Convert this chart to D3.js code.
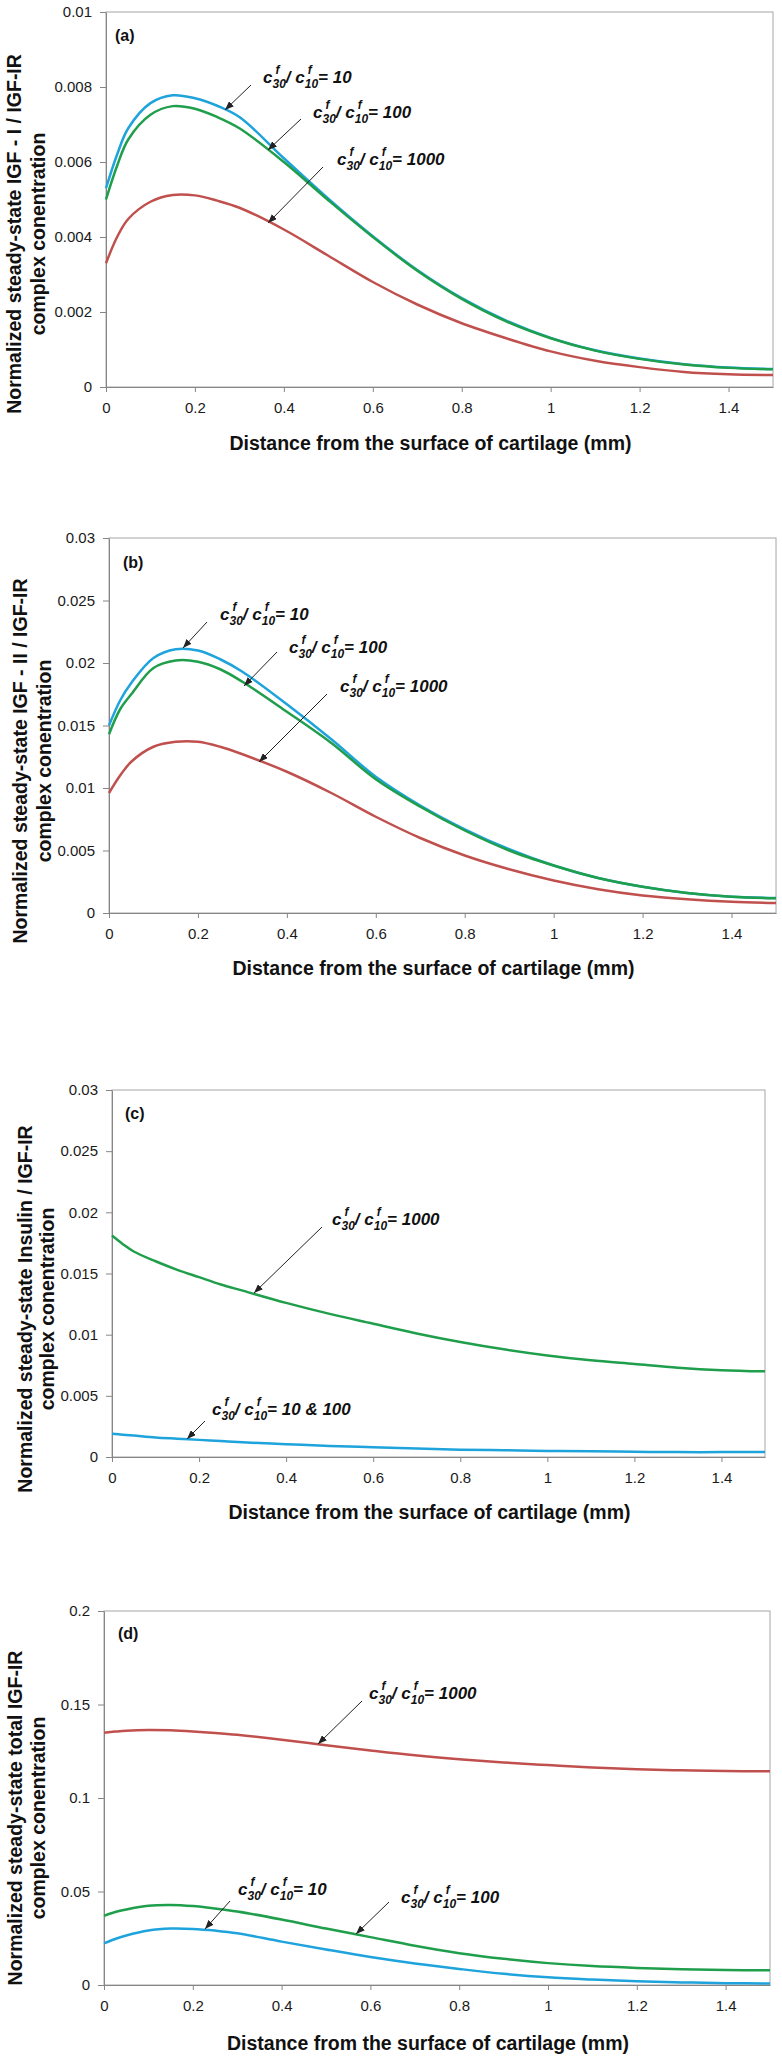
<!DOCTYPE html>
<html><head><meta charset="utf-8">
<script src="https://cdn.jsdelivr.net/npm/d3@7"></script>
<style>
body{margin:0;background:#fff}
svg{display:block}
.tick text{font-family:"Liberation Sans",Arial,sans-serif;font-size:15px;fill:#1a1a1a}
.ttl{font-family:"Liberation Sans",Arial,sans-serif;font-weight:bold;font-size:19.5px;fill:#111}
.plab{font-family:"Liberation Sans",Arial,sans-serif;font-weight:bold;font-size:16px;fill:#111}
.annMain{font-family:"Liberation Sans",Arial,sans-serif;font-weight:bold;font-style:italic;font-size:17px;fill:#111}
.annSmall{font-family:"Liberation Sans",Arial,sans-serif;font-weight:bold;font-style:italic;font-size:12px;fill:#111}
</style>
</head><body>
<svg id="chart" width="782" height="2058"></svg>
<script>
// ---------- data ----------
const distance = [0,0.025,0.05,0.1,0.15,0.2,0.25,0.3,0.4,0.5,0.6,0.7,0.8,0.9,1.0,1.1,1.2,1.3,1.4,1.5];
const xTicks = [0,0.2,0.4,0.6,0.8,1,1.2,1.4];
const xTickLabels = ["0","0.2","0.4","0.6","0.8","1","1.2","1.4"];

// (a) IGF-I / IGF-IR
const aRatio10   = [0.0053,0.0062,0.0069,0.00757,0.00778,0.0077,0.0075,0.0072,0.0061,0.00502,0.00402,0.00312,0.00237,0.00177,0.00131,0.00098,0.00076,0.00061,0.00052,0.00048];
const aRatio100  = [0.0050,0.0059,0.0066,0.00726,0.00749,0.00742,0.0072,0.0069,0.0060,0.00498,0.0040,0.0031,0.00235,0.00175,0.0013,0.00097,0.00075,0.0006,0.00051,0.00047];
const aRatio1000 = [0.0033,0.0040,0.00448,0.00494,0.00512,0.00511,0.00497,0.00478,0.0042,0.0035,0.0028,0.0022,0.0017,0.0013,0.00095,0.0007,0.00053,0.0004,0.00034,0.00032];
const aYTicks = [0,0.002,0.004,0.006,0.008,0.01];
const aYTickLabels = ["0","0.002","0.004","0.006","0.008","0.01"];

// (b) IGF-II / IGF-IR
const bRatio10   = [0.0150,0.0170,0.0184,0.0204,0.0211,0.0210,0.0203,0.0193,0.0167,0.0139,0.0109,0.0086,0.0067,0.0051,0.0038,0.0028,0.0021,0.0016,0.0013,0.0012];
const bRatio100  = [0.0143,0.0163,0.0175,0.0196,0.0202,0.0201,0.0195,0.0185,0.0161,0.0136,0.0107,0.0085,0.0066,0.0050,0.0038,0.0028,0.0021,0.0016,0.0013,0.00118];
const bRatio1000 = [0.0096,0.0110,0.0121,0.0133,0.0137,0.0137,0.0133,0.0127,0.0113,0.0096,0.0077,0.0060,0.0046,0.0035,0.0026,0.0019,0.0014,0.0011,0.0009,0.0008];
const bYTicks = [0,0.005,0.01,0.015,0.02,0.025,0.03];
const bYTickLabels = ["0","0.005","0.01","0.015","0.02","0.025","0.03"];

// (c) Insulin / IGF-IR
const cRatio10and100 = [0.0019,0.00182,0.00175,0.0016,0.0015,0.0014,0.0013,0.0012,0.00105,0.0009,0.0008,0.0007,0.0006,0.00055,0.0005,0.00046,0.00043,0.0004,0.0004,0.0004];
const cRatio1000     = [0.0181,0.0174,0.0168,0.0160,0.0153,0.0147,0.0141,0.0136,0.0126,0.0117,0.0109,0.0101,0.0094,0.0088,0.0083,0.0079,0.0076,0.0073,0.0071,0.0070];
const cYTicks = [0,0.005,0.01,0.015,0.02,0.025,0.03];
const cYTickLabels = ["0","0.005","0.01","0.015","0.02","0.025","0.03"];

// (d) total IGF-IR
const dRatio10   = [0.0223,0.0246,0.0265,0.0292,0.0302,0.0300,0.0291,0.0277,0.0232,0.0190,0.0150,0.0115,0.0086,0.0060,0.0041,0.0029,0.0020,0.0014,0.0010,0.0008];
const dRatio100  = [0.0370,0.0390,0.0404,0.0424,0.0428,0.0422,0.0409,0.0393,0.0350,0.0302,0.0256,0.0210,0.0170,0.0140,0.0117,0.0101,0.0091,0.0084,0.0080,0.0079];
const dRatio1000 = [0.1349,0.1355,0.1360,0.1364,0.1362,0.1356,0.1348,0.1338,0.1312,0.1282,0.1254,0.1228,0.1207,0.1190,0.1176,0.1163,0.1154,0.1148,0.1144,0.1143];
const dYTicks = [0,0.05,0.1,0.15,0.2];
const dYTickLabels = ["0","0.05","0.1","0.15","0.2"];

const xTitle = "Distance from the surface of cartilage (mm)";
const yTitles = [
  ["Normalized steady-state IGF - I / IGF-IR","complex conentration"],
  ["Normalized steady-state IGF - II / IGF-IR","complex conentration"],
  ["Normalized steady-state Insulin / IGF-IR","complex conentration"],
  ["Normalized steady-state total IGF-IR","complex conentration"]
];
const panelLetters = ["(a)","(b)","(c)","(d)"];

// ---------- colours ----------
const BLUE = "#1EA3DC", GREEN = "#1F9E4B", RED = "#C0504D";

// ---------- layout ----------
const panels = [
  {left:106,right:773,top:12,bottom:387,yMax:0.01,yTicks:aYTicks,yLabels:aYTickLabels,
   series:[{v:aRatio10,c:BLUE},{v:aRatio100,c:GREEN},{v:aRatio1000,c:RED}],
   title:yTitles[0],tCy:234,tB1:20.5,tB2:44.5,xtY:450,letter:panelLetters[0],lx:115,ly:41,
   ann:[{x:263,y:83,val:"10",a:[251,85,225,110]},
        {x:313,y:118,val:"100",a:[301,119,268,150]},
        {x:337,y:165,val:"1000",a:[323,167,268,223]}]},
  {left:109,right:776,top:538,bottom:913,yMax:0.03,yTicks:bYTicks,yLabels:bYTickLabels,
   series:[{v:bRatio10,c:BLUE},{v:bRatio100,c:GREEN},{v:bRatio1000,c:RED}],
   title:yTitles[1],tCy:761,tB1:26.5,tB2:50.5,xtY:975,letter:panelLetters[1],lx:123,ly:568,
   ann:[{x:220,y:620,val:"10",a:[207,622,183,648]},
        {x:289,y:653,val:"100",a:[277,652,244,686]},
        {x:340,y:692,val:"1000",a:[327,694,259,762]}]},
  {left:112,right:765,top:1090,bottom:1457,yMax:0.03,yTicks:cYTicks,yLabels:cYTickLabels,
   series:[{v:cRatio10and100,c:BLUE},{v:cRatio1000,c:GREEN}],
   title:yTitles[2],tCy:1309,tB1:31.5,tB2:53.5,xtY:1519,letter:panelLetters[2],lx:125,ly:1119,
   ann:[{x:332,y:1225,val:"1000",a:[322,1227,254,1293]},
        {x:212,y:1415,val:"10 & 100",a:[205,1421,187,1439]}]},
  {left:104,right:770,top:1611,bottom:1985,yMax:0.2,yTicks:dYTicks,yLabels:dYTickLabels,
   series:[{v:dRatio10,c:BLUE},{v:dRatio100,c:GREEN},{v:dRatio1000,c:RED}],
   title:yTitles[3],tCy:1818,tB1:21.5,tB2:44.5,xtY:2050,letter:panelLetters[3],lx:118,ly:1639,
   ann:[{x:369,y:1699,val:"1000",a:[362,1701,318,1744]},
        {x:238,y:1895,val:"10",a:[230,1901,205,1929]},
        {x:401,y:1903,val:"100",a:[389,1902,356,1934]}]}
];

const svg = d3.select("#chart");
svg.append("rect").attr("width",782).attr("height",2058).attr("fill","#fff");
svg.append("defs").append("marker")
  .attr("id","arrow").attr("markerUnits","userSpaceOnUse")
  .attr("markerWidth",9).attr("markerHeight",7).attr("refX",9).attr("refY",3.5)
  .attr("orient","auto")
  .append("path").attr("d","M0,0 L9,3.5 L0,7 Z").attr("fill","#222");

function ratioLabel(g, x, y, value){
  let cx = x;
  const main = s => { const t = g.append("text").attr("class","annMain").attr("x",cx).attr("y",y).text(s); cx += t.node().getComputedTextLength(); };
  const subsup = s => {
    const t = g.append("text").attr("class","annSmall").attr("x",cx).attr("y",y+5).text(s);
    g.append("text").attr("class","annSmall").attr("x",cx+3).attr("y",y-9).text("f");
    cx += t.node().getComputedTextLength();
  };
  main("c"); subsup("30"); main("/ c"); subsup("10"); main("= " + value);
}

panels.forEach(p => {
  const x = d3.scaleLinear().domain([0,1.5]).range([p.left,p.right]);
  const y = d3.scaleLinear().domain([0,p.yMax]).range([p.bottom,p.top]);
  const g = svg.append("g");

  g.append("rect").attr("x",p.left).attr("y",p.top).attr("width",p.right-p.left).attr("height",p.bottom-p.top)
    .attr("fill","none").attr("stroke","#a6a6a6").attr("stroke-width",1);

  const xa = g.append("g").attr("transform",`translate(0,${p.bottom})`)
    .call(d3.axisBottom(x).tickValues(xTicks).tickFormat((d,i)=>xTickLabels[i]).tickSize(5).tickSizeOuter(0).tickPadding(10));
  const ya = g.append("g").attr("transform",`translate(${p.left},0)`)
    .call(d3.axisLeft(y).tickValues(p.yTicks).tickFormat((d,i)=>p.yLabels[i]).tickSize(6).tickSizeOuter(0).tickPadding(8));
  [xa,ya].forEach(a=>{ a.select(".domain").attr("stroke","#868686"); a.selectAll(".tick line").attr("stroke","#868686"); a.attr("font-family",null).attr("font-size",null); });

  const line = d3.line().x((d,i)=>x(distance[i])).y(d=>y(d)).curve(d3.curveCatmullRom.alpha(0.5));
  p.series.forEach(s => {
    g.append("path").datum(s.v).attr("d",line).attr("fill","none").attr("stroke",s.c).attr("stroke-width",2.5).attr("stroke-linejoin","round");
  });

  g.append("text").attr("class","ttl").attr("x",(p.left+p.right)/2 - 9).attr("y",p.xtY).attr("text-anchor","middle").text(xTitle);
  const yt = g.append("g").attr("transform",`translate(0,${p.tCy}) rotate(-90)`);
  yt.append("text").attr("class","ttl").attr("x",0).attr("y",p.tB1).attr("text-anchor","middle").text(p.title[0]);
  yt.append("text").attr("class","ttl").attr("x",0).attr("y",p.tB2).attr("text-anchor","middle").text(p.title[1]);

  g.append("text").attr("class","plab").attr("x",p.lx).attr("y",p.ly).text(p.letter);

  p.ann.forEach(a => {
    ratioLabel(g, a.x, a.y, a.val);
    g.append("line").attr("x1",a.a[0]).attr("y1",a.a[1]).attr("x2",a.a[2]).attr("y2",a.a[3])
      .attr("stroke","#222").attr("stroke-width",1).attr("marker-end","url(#arrow)");
  });
});
</script>
</body></html>
